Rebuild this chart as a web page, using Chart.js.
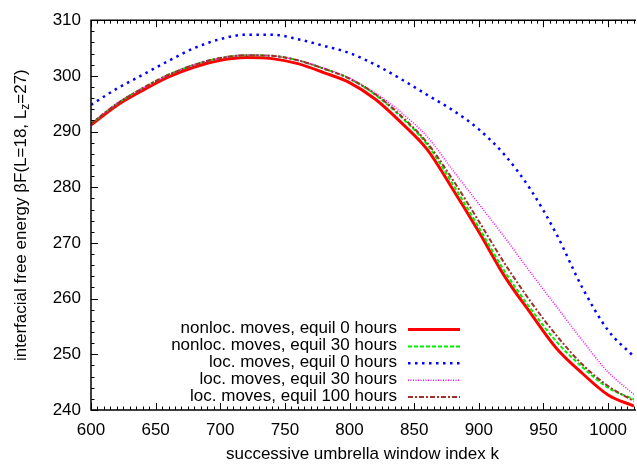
<!DOCTYPE html>
<html>
<head>
<meta charset="utf-8">
<script src="https://cdn.jsdelivr.net/npm/chart.js@4"></script>
<style>
  body { margin: 0; background: #fff; }
  #wrap { width: 637px; height: 467px; }
</style>
</head>
<body>
<div id="wrap"><canvas id="fe" width="637" height="467"></canvas></div>
<script>
// window index k
const kValues = [600, 620, 640, 660, 680, 700, 720, 740, 760, 780, 800, 820, 840, 860, 880, 900, 920, 940, 960, 980, 1000, 1020];

// beta F values
const nonloc0 = [291.2, 294.7, 297.4, 299.8, 301.6, 302.8, 303.3, 303.1, 302.2, 300.6, 298.8, 295.8, 291.6, 286.8, 279.6, 272.0, 264.0, 257.4, 251.1, 246.6, 242.7, 240.7];
const nonloc30 = [291.4, 295.0, 297.8, 300.2, 302.0, 303.2, 303.7, 303.6, 302.8, 301.3, 299.5, 296.6, 292.6, 287.7, 280.5, 272.8, 264.9, 258.2, 252.3, 247.7, 244.0, 241.9];
const loc0 = [294.8, 297.7, 300.2, 302.7, 305.0, 306.6, 307.4, 307.4, 306.6, 305.4, 304.1, 302.0, 299.4, 296.6, 293.8, 290.4, 285.8, 279.6, 271.6, 262.0, 254.3, 249.6];
const loc30 = [291.3, 295.0, 297.8, 300.2, 302.0, 303.2, 303.7, 303.6, 302.8, 301.4, 299.6, 296.9, 293.4, 289.1, 283.0, 277.0, 271.0, 264.7, 258.6, 252.5, 246.8, 242.8];
const loc100 = [291.4, 295.0, 297.8, 300.2, 302.0, 303.2, 303.7, 303.6, 302.8, 301.3, 299.5, 296.7, 292.8, 288.0, 281.3, 273.9, 266.3, 259.5, 253.4, 248.2, 244.3, 241.6];

const seriesNames = [
  'nonloc. moves, equil 0 hours',
  'nonloc. moves, equil 30 hours',
  'loc. moves, equil 0 hours',
  'loc. moves, equil 30 hours',
  'loc. moves, equil 100 hours'
];

const xTickValues = [600, 650, 700, 750, 800, 850, 900, 950, 1000];
const yTickValues = [240, 250, 260, 270, 280, 290, 300, 310];

const FONT = '"Liberation Sans", Arial, sans-serif';
const FSIZE = 17;

const styles = [
  { color: '#ff0000', width: 3, dash: [] },
  { color: '#00ee00', width: 2, dash: [4, 2] },
  { color: '#0000ff', width: 2.5, dash: [2.5, 4.5] },
  { color: '#ff00ff', width: 1.5, dash: [1, 1.5] },
  { color: '#a0302a', width: 2, dash: [5, 2, 2, 2] }
];

const allSeries = [nonloc0, nonloc30, loc0, loc30, loc100];

const datasets = allSeries.map((vals, i) => ({
  label: seriesNames[i],
  data: vals.map((v, j) => ({ x: kValues[j], y: v })),
  borderColor: styles[i].color,
  backgroundColor: styles[i].color,
  borderWidth: styles[i].width,
  borderDash: styles[i].dash,
  pointRadius: 0,
  fill: false,
  cubicInterpolationMode: 'monotone',
  order: allSeries.length - i
}));

// frame with gnuplot style inward ticks, titles and key
const framePlugin = {
  id: 'frame',
  afterDatasetsDraw(chart) {
    const ctx = chart.ctx;
    const a = chart.chartArea;
    const xs = chart.scales.x, ys = chart.scales.y;
    ctx.save();
    ctx.strokeStyle = '#000';
    ctx.lineWidth = 1.5;
    ctx.beginPath();
    ctx.moveTo(a.right + 2, a.top);
    ctx.lineTo(a.left, a.top);
    ctx.lineTo(a.left, a.bottom);
    ctx.lineTo(a.right + 2, a.bottom);
    ctx.stroke();

    ctx.lineWidth = 1;
    ctx.beginPath();
    for (let v = 600; v <= 1020; v += 5) {
      const px = Math.round(xs.getPixelForValue(v)) + 0.5;
      const len = (v % 50 === 0) ? 7 : 3.5;
      ctx.moveTo(px, a.bottom); ctx.lineTo(px, a.bottom - len);
      ctx.moveTo(px, a.top); ctx.lineTo(px, a.top + len);
    }
    for (let v = 240; v <= 310; v += 2) {
      const py = Math.round(ys.getPixelForValue(v)) + 0.5;
      const len = (v % 10 === 0) ? 7 : 3.5;
      ctx.moveTo(a.left, py); ctx.lineTo(a.left + len, py);
    }
    ctx.stroke();
    ctx.restore();
  },
  afterDraw(chart) {
    const ctx = chart.ctx;
    const a = chart.chartArea;
    ctx.save();
    ctx.fillStyle = '#000';

    // x title
    ctx.font = FSIZE + 'px ' + FONT;
    ctx.textAlign = 'center';
    ctx.textBaseline = 'middle';
    ctx.fillText('successive umbrella window index k', (a.left + a.right) / 2, 454);

    // y title with subscript
    const main = 'interfacial free energy \u03b2F(L=18, L';
    const sub = 'z';
    const tail = '=27)';
    ctx.font = FSIZE + 'px ' + FONT;
    const w1 = ctx.measureText(main).width;
    const w3 = ctx.measureText(tail).width;
    ctx.font = '12px ' + FONT;
    const w2 = ctx.measureText(sub).width;
    const total = w1 + w2 + w3;
    ctx.translate(20, (a.top + a.bottom) / 2);
    ctx.rotate(-Math.PI / 2);
    ctx.textAlign = 'left';
    ctx.textBaseline = 'alphabetic';
    const x0 = -total / 2;
    ctx.font = FSIZE + 'px ' + FONT;
    ctx.fillText(main, x0, 6);
    ctx.font = '12px ' + FONT;
    ctx.fillText(sub, x0 + w1, 9);
    ctx.font = FSIZE + 'px ' + FONT;
    ctx.fillText(tail, x0 + w1 + w2, 6);
    ctx.restore();

    // key
    ctx.save();
    ctx.font = FSIZE + 'px ' + FONT;
    ctx.textAlign = 'right';
    ctx.textBaseline = 'middle';
    chart.data.datasets.forEach((ds, i) => {
      const y = 328.5 + 16.9 * i;
      ctx.fillStyle = '#000';
      ctx.fillText(ds.label, 397, y);
      ctx.strokeStyle = ds.borderColor;
      ctx.lineWidth = ds.borderWidth;
      ctx.setLineDash(ds.borderDash);
      ctx.beginPath();
      ctx.moveTo(408, y + 1);
      ctx.lineTo(460, y + 1);
      ctx.stroke();
      ctx.setLineDash([]);
    });
    ctx.restore();
  }
};

new Chart(document.getElementById('fe'), {
  type: 'line',
  data: { datasets: datasets },
  options: {
    responsive: false,
    animation: false,
    layout: { padding: { top: 10, right: 0, left: 0, bottom: 0 } },
    plugins: {
      legend: { display: false },
      tooltip: { enabled: false },
      title: { display: false }
    },
    scales: {
      x: {
        type: 'linear',
        min: 600,
        max: 1020,
        grid: { display: false, drawTicks: false },
        border: { display: false },
        ticks: {
          color: '#000',
          font: { family: FONT, size: FSIZE },
          padding: 10,
          maxRotation: 0,
          callback: v => String(v)
        },
        afterBuildTicks: s => { s.ticks = xTickValues.map(v => ({ value: v })); },
        afterFit: s => { s.height = 57; }
      },
      y: {
        min: 240,
        max: 310,
        grid: { display: false, drawTicks: false },
        border: { display: false },
        ticks: {
          color: '#000',
          font: { family: FONT, size: FSIZE },
          padding: 10,
          callback: v => String(v)
        },
        afterBuildTicks: s => { s.ticks = yTickValues.map(v => ({ value: v })); },
        afterFit: s => { s.width = 91; }
      }
    }
  },
  plugins: [framePlugin]
});
</script>
</body>
</html>
